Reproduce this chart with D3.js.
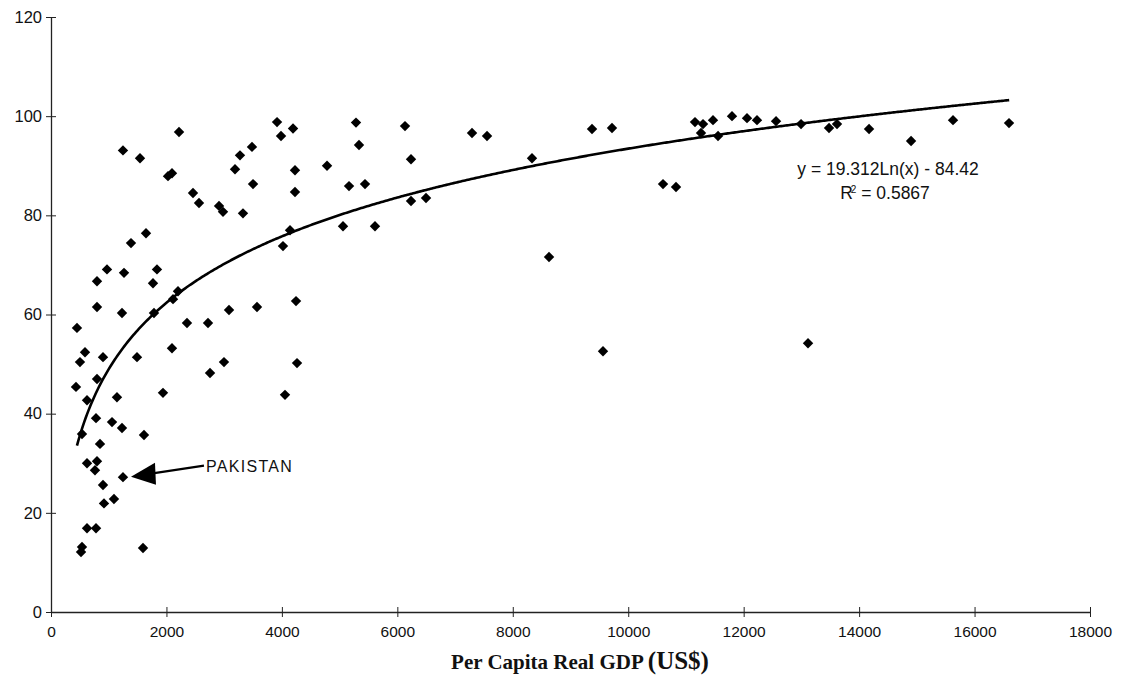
<!DOCTYPE html>
<html><head><meta charset="utf-8">
<script src="https://cdn.jsdelivr.net/npm/d3@7"></script>
<style>
body{margin:0;background:#fff;}
svg{display:block;}
</style></head>
<body>
<svg id="chart" width="1124" height="676"></svg>
<script>
// Data
const gdp = [1247,1542,2218,2027,2096,2460,2564,2911,2980,3188,3274,3482,3500,3326,3916,3985,4193,4227,4227,4782,
  5284,5336,5163,5440,5059,5613,4141,4019,4245,1386,1646,797,970,1265,1836,1767,797,1230,1784,2114,
  2200,2356,2720,3084,3569,450,502,589,433,901,1490,797,624,1143,1940,2096,2755,2997,4054,4262,
  780,1057,1230,1611,537,849,624,797,762,1247,901,1091,918,624,780,537,520,1594,
  6133,6237,6237,6497,7294,7554,8333,8628,9373,9719,9563,10603,10828,11157,11296,11261,11469,11556,11798,12058,
  12231,12561,12994,13479,13617,13115,14172,14900,15627,16597];
const rate = [93.1,91.5,96.8,87.9,88.5,84.5,82.5,81.9,80.7,89.3,92.1,93.8,86.3,80.4,98.8,96.0,97.5,89.1,84.7,90.0,
  98.7,94.2,85.9,86.3,77.8,77.8,77.0,73.8,62.7,74.4,76.4,66.7,69.1,68.4,69.1,66.3,61.5,60.3,60.3,63.1,
  64.7,58.3,58.3,60.9,61.5,57.3,50.4,52.4,45.4,51.4,51.4,47.0,42.7,43.3,44.2,53.2,48.2,50.4,43.8,50.2,
  39.1,38.3,37.1,35.7,35.9,33.9,30.0,30.4,28.6,27.2,25.6,22.8,21.9,16.9,16.9,13.1,12.1,12.9,
  98.0,91.3,82.9,83.5,96.6,96.0,91.5,71.6,97.4,97.6,52.6,86.3,85.7,98.8,98.4,96.6,99.2,96.0,100.0,99.6,
  99.2,99.0,98.4,97.6,98.4,54.2,97.4,95.0,99.2,98.6];
const xTicks = [0,2000,4000,6000,8000,10000,12000,14000,16000,18000];
const yTicks = [0,20,40,60,80,100,120];
const trendA = 19.312, trendB = -84.42;
const trendRange = [450, 16600];
const equationText = "y = 19.312Ln(x) - 84.42";
const r2Text = "0.5867";
const pakistan = {gdp: 1247, rate: 27.2, label: "PAKISTAN"};
const xTitle = "Per Capita Real GDP ";
const xTitleUnit = "(US$)";

const svg = d3.select("#chart");
const x = d3.scaleLinear().domain([0,18000]).range([51,1090]);
const y = d3.scaleLinear().domain([0,120]).range([612,17]);
const sans = "'Liberation Sans', Arial, sans-serif";

// axes
const xAxis = svg.append("g").attr("transform","translate(0,612)")
  .call(d3.axisBottom(x).tickValues(xTicks).tickSize(0).tickPadding(14).tickFormat(d3.format("d")));
xAxis.select(".domain").attr("stroke","#222").attr("stroke-width",1.3);
xAxis.selectAll(".tick line").remove();
xAxis.selectAll(".tick").append("line").attr("y1",-5).attr("y2",5).attr("stroke","#222");
xAxis.selectAll("text").attr("font-family",sans).attr("font-size",15.5).attr("fill","#111");

const yAxis = svg.append("g").attr("transform","translate(51,0)")
  .call(d3.axisLeft(y).tickValues(yTicks).tickSize(0).tickPadding(9));
yAxis.select(".domain").attr("stroke","#222").attr("stroke-width",1.3);
yAxis.selectAll(".tick line").remove();
yAxis.selectAll(".tick").append("line").attr("x1",-5).attr("x2",5).attr("stroke","#222");
yAxis.selectAll("text").attr("font-family",sans).attr("font-size",16.5).attr("fill","#111");

// trend line
const tx = d3.range(trendRange[0], trendRange[1]+1, 25);
const line = d3.line().x(d=>x(d)).y(d=>y(trendA*Math.log(d)+trendB)).curve(d3.curveLinear);
svg.append("path").datum(tx).attr("d",line).attr("fill","none").attr("stroke","#000").attr("stroke-width",2.6);

// points
const pts = gdp.map((g,i)=>({g, r: rate[i]}));
const half = 5.2;
svg.append("g").selectAll("path").data(pts).join("path")
  .attr("transform", d=>`translate(${x(d.g)},${y(d.r)})`)
  .attr("d", `M0,${-half}L${half},0L0,${half}L${-half},0Z`)
  .attr("fill","#000");

// equation
const eq = svg.append("g").attr("font-family",sans).attr("font-size",17.5).attr("fill","#111");
eq.append("text").attr("x",888).attr("y",175).attr("text-anchor","middle").text(equationText);
const r2 = eq.append("text").attr("x",885).attr("y",199).attr("text-anchor","middle");
r2.append("tspan").text("R");
r2.append("tspan").attr("font-size",10).attr("dy",-6).attr("dx",-2).text("2");
r2.append("tspan").attr("dy",6).text(" = " + r2Text);

// Pakistan annotation
const tipX = x(pakistan.gdp) + 8, tipY = y(pakistan.rate) - 0.5;
svg.append("line").attr("x1",tipX+20).attr("y1",tipY-3).attr("x2",x(2650)).attr("y2",tipY-11)
  .attr("stroke","#000").attr("stroke-width",2.2);
svg.append("path").attr("d",`M${tipX},${tipY}L${tipX+24},${tipY-14}L${tipX+25},${tipY+8}Z`).attr("fill","#000");
svg.append("text").attr("x",x(2650)+2).attr("y",tipY-5).attr("font-family",sans)
  .attr("font-size",16).attr("letter-spacing",1.3).attr("fill","#111").text(pakistan.label);

// x title
const t = svg.append("text").attr("x",580).attr("y",669).attr("text-anchor","middle")
  .attr("font-family","'Liberation Serif','Times New Roman',serif").attr("font-weight","bold").attr("font-size",21).attr("fill","#111");
t.append("tspan").text(xTitle);
t.append("tspan").attr("font-size",25).text(xTitleUnit);
</script>
</body></html>
